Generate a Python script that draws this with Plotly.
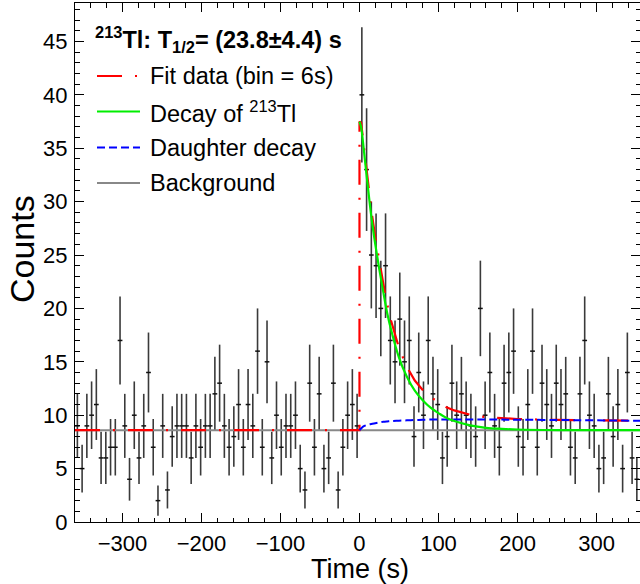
import math
import plotly.graph_objects as go

# ---- data ----
bin_width = 6
time_bins = list(range(-357, 360, bin_width))  # bin centres (s)
counts = [
    9, 5, 9, 10, 11, 6, 6, 7, 7, 17,
    9, 4, 10, 6, 9, 14, 7, 2, 9, 3,
    8, 9, 9, 9, 6, 9, 7, 9, 9, 12,
    13, 9, 7, 8, 11, 7, 11, 9, 16, 7,
    15, 6, 10, 7, 9, 9, 10, 5, 3, 13,
    7, 12, 5, 6, 13, 3, 7, 10, 11, 9,
    40, 33, 25, 24, 20, 24, 17, 15, 19, 15,
    17, 8, 14, 10, 17, 12, 11, 6, 8, 13,
    10, 12, 10, 9, 8, 20, 10, 14, 9, 7,
    13, 14, 16, 8, 7, 11, 16, 7, 13, 11,
    9, 13, 11, 12, 7, 6, 12, 17, 10, 9,
    5, 6, 12, 8, 11, 5, 14, 6, 4, 7,
]
count_err = [math.sqrt(c) for c in counts]

# background level
bkg_t = [-360, 360]
bkg_v = [8.6, 8.6]

curve_t = [0, 2, 5, 10, 15, 20, 25, 30, 35, 40, 50, 60, 70, 80, 90, 100,
           110, 120, 140, 160, 180, 200, 250, 300, 360]
parent_v = [37.5, 37.0, 35.2, 31.8, 28.6, 26.0, 23.7, 21.6, 19.6, 18.0, 15.4,
            13.6, 12.3, 11.4, 10.7, 10.2, 9.75, 9.45, 9.05, 8.82, 8.72, 8.66,
            8.61, 8.6, 8.6]
daughter_v = [8.6, 8.75, 8.95, 9.1, 9.18, 9.25, 9.32, 9.38, 9.42, 9.45, 9.49,
              9.52, 9.55, 9.57, 9.59, 9.6, 9.6, 9.6, 9.6, 9.6, 9.59, 9.58,
              9.55, 9.52, 9.48]
fit_t = [-360, 0] + curve_t
fit_v = [8.6, 8.6, 37.5, 37.4, 35.55, 32.3, 29.2, 26.65, 24.4, 22.38, 20.4,
         18.85, 16.3, 14.52, 13.25, 12.37, 11.69, 11.2, 10.75, 10.45, 10.05,
         9.82, 9.71, 9.64, 9.56, 9.52, 9.48]

legend_labels = ["Fit data (bin = 6s)", "Decay of <sup>213</sup>Tl",
                 "Daughter decay", "Background"]
title_text = "<b><sup>213</sup>Tl: T<sub>1/2</sub>= (23.8\u00b14.4) s</b>"

# ---- styles ----
FONT = "Liberation Sans, Arial, Helvetica, sans-serif"
RED_DASH = "25px,13px,2px,13px"
BLUE_DASH = "8px,4px"

W, H = 640, 584
L, R, T, B = 75, 0, 3, 62
pw, ph = W - L - R, H - T - B


def px2paper(px, py):
    return (px - L) / pw, (H - B - py) / ph


fig = go.Figure()

fig.add_trace(go.Scatter(
    x=time_bins, y=counts, mode="markers",
    marker=dict(size=1, color="rgba(0,0,0,0)"),
    error_y=dict(type="data", array=count_err, visible=True, width=0,
                 thickness=1.6, color="#3a3a3a"),
    error_x=dict(type="constant", value=bin_width / 2, visible=True, width=0,
                 thickness=1.5, color="#111111"),
    showlegend=False, hoverinfo="skip"))

fig.add_trace(go.Scatter(x=bkg_t, y=bkg_v, mode="lines",
                         line=dict(color="#888888", width=2), showlegend=False))
fig.add_trace(go.Scatter(x=fit_t, y=fit_v, mode="lines",
                         line=dict(color="#ff0000", width=2.2, dash=RED_DASH),
                         showlegend=False))
fig.add_trace(go.Scatter(x=curve_t, y=daughter_v, mode="lines", line_shape="spline",
                         line=dict(color="#0000ff", width=2, dash=BLUE_DASH),
                         showlegend=False))
fig.add_trace(go.Scatter(x=curve_t, y=parent_v, mode="lines", line_shape="spline",
                         line=dict(color="#00ee00", width=2.2), showlegend=False))

# ---- manual legend ----
legend_styles = [
    dict(color="#ff0000", width=2.2, dash=RED_DASH),
    dict(color="#00ee00", width=2.2),
    dict(color="#0000ff", width=2, dash=BLUE_DASH),
    dict(color="#888888", width=2),
]
rows_y = [76, 111.5, 147.5, 183]
shapes = []
annotations = []
for lab, st, yy in zip(legend_labels, legend_styles, rows_y):
    x0, y0 = px2paper(97, yy)
    x1, _ = px2paper(140, yy)
    shapes.append(dict(type="line", xref="paper", yref="paper", x0=x0, x1=x1,
                       y0=y0, y1=y0, line=st, layer="above"))
    tx, ty = px2paper(148, yy)
    annotations.append(dict(text=lab, xref="paper", yref="paper", x=tx, y=ty,
                            xanchor="left", yanchor="middle", showarrow=False,
                            font=dict(family=FONT, size=23.5, color="black")))

tx, ty = px2paper(93, 40)
annotations.append(dict(text=title_text, xref="paper", yref="paper", x=tx, y=ty,
                        xanchor="left", yanchor="middle", showarrow=False,
                        font=dict(family=FONT, size=23.5, color="black")))
# axis titles
tx, ty = px2paper(360, 569)
annotations.append(dict(text="Time (s)", xref="paper", yref="paper", x=tx, y=ty,
                        xanchor="center", yanchor="middle", showarrow=False,
                        font=dict(family=FONT, size=27, color="black")))
tx, ty = px2paper(22, 249)
annotations.append(dict(text="Counts", xref="paper", yref="paper", x=tx, y=ty,
                        xanchor="center", yanchor="middle", showarrow=False,
                        textangle=-90,
                        font=dict(family=FONT, size=34, color="black")))

axis_common = dict(showline=True, linecolor="black", linewidth=1, mirror="ticks",
                   ticks="inside", ticklen=9, tickwidth=1, tickcolor="black",
                   showgrid=False, zeroline=False, automargin=False,
                   tickfont=dict(family=FONT, size=22, color="black"))

fig.update_layout(
    width=W, height=H, margin=dict(l=L, r=R, t=T, b=B),
    paper_bgcolor="white", plot_bgcolor="white",
    xaxis=dict(range=[-360, 355], tick0=0, dtick=100, ticklabelstandoff=2,
               minor=dict(dtick=20, ticklen=4.5, tickcolor="black", ticks="inside"),
               **axis_common),
    yaxis=dict(range=[0, 48.6], tick0=0, dtick=5, ticklabelstandoff=2,
               minor=dict(dtick=1, ticklen=4.5, tickcolor="black", ticks="inside"),
               **axis_common),
    shapes=shapes, annotations=annotations,
)

fig.write_html(
    "out.html",
    config={"displayModeBar": False},
    post_script="document.body.style.margin='0';document.body.style.overflow='hidden';",
)
